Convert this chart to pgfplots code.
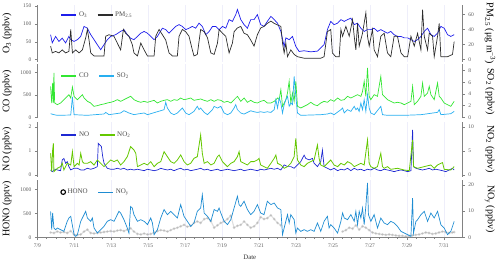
\documentclass[border=0pt]{standalone}
\usepackage{fontspec}
\setmainfont{Liberation Serif}
\usepackage{pgfplots}
\pgfplotsset{compat=1.18}
\definecolor{o3col}{RGB}{30,30,235}
\definecolor{pmcol}{RGB}{45,45,45}
\definecolor{cocol}{RGB}{50,230,50}
\definecolor{so2col}{RGB}{40,175,240}
\definecolor{nocol}{RGB}{30,40,210}
\definecolor{no2col}{RGB}{100,200,0}
\definecolor{noycol}{RGB}{30,140,210}
\definecolor{honocol}{RGB}{160,160,160}
\definecolor{gridcol}{RGB}{238,238,250}
\definecolor{axcol}{RGB}{130,130,130}
\definecolor{tickcol}{RGB}{90,90,90}
\pgfplotsset{
  base/.style={
    scale only axis, width=425pt, xmin=0, xmax=23,
    axis line style={axcol, line width=0.5pt},
    tick style={axcol, line width=0.5pt},
    tick align=outside,
    major tick length=2.5pt,
    minor tick length=1.5pt,
    ticklabel style={font=\fontsize{5.5}{6}\selectfont, text=tickcol},
    /pgf/number format/assume math mode=true,
    /pgf/number format/set thousands separator={},
    label style={font=\fontsize{6.8}{8}\selectfont, text=black!80},
    legend columns=2,
    legend style={draw=none, fill=none, font=\fontsize{7}{8}\selectfont, text=black!70,
      /tikz/every even column/.append style={column sep=8pt}},
    legend image code/.code={\draw[mark repeat=2, mark phase=2, ##1] plot coordinates {(0pt,0pt) (7.5pt,0pt) (15pt,0pt)};},
    legend image post style={line width=1.1pt},
    legend cell align=left,
    every axis plot/.append style={line width=0.7pt},
  },
  leftax/.style={base, axis y line*=left, axis x line*=bottom,
    x axis line style={draw=none}, xtick={2,4,...,22}, xticklabels={}, xtick style={draw=none},
    xmajorgrids, major grid style={gridcol, line width=0.3pt},
    every axis y label/.style={at={(axis description cs:-0.0713,0.5)}, rotate=90, anchor=center}},
  rightax/.style={base, axis y line*=right, axis x line=none,
    every axis y label/.style={at={(axis description cs:1.065,0.5)}, rotate=-90, anchor=center}},
}
\begin{document}
\begin{tikzpicture}
\useasboundingbox (0,0) rectangle (500pt,265pt);
% ---------------- Panel 1 ----------------
\begin{axis}[leftax, at={(37.3pt,203pt)}, anchor=south west, height=57pt,
  ymin=-6.4, ymax=152.8, ytick={0,50,100,150}, ylabel={O\textsubscript{3} (ppbv)}]
\addplot[o3col] coordinates {
(0.72,70)(0.81,47)(0.99,65)(1.17,51)(1.35,60)(1.53,47)(1.71,65)(1.81,56)(1.99,51)(2.17,56)
(2.35,65)(2.53,93)(2.71,88)(2.89,70)(3.07,56)(3.25,42)(3.43,28)(3.61,42)(3.79,56)(3.97,65)
(4.24,70)(4.51,79)(4.69,84)(4.87,70)(5.05,60)(5.23,56)(5.42,65)(5.60,74)(5.78,79)(5.96,74)
(6.14,65)(6.32,56)(6.50,65)(6.77,88)(6.95,84)(7.13,74)(7.31,84)(7.49,93)(7.67,98)(7.85,93)
(8.03,84)(8.21,88)(8.39,93)(8.57,88)(8.75,102)(8.93,93)(9.12,70)(9.30,79)(9.48,93)(9.66,93)
(9.84,84)(10.02,93)(10.20,88)(10.38,112)(10.56,107)(10.74,126)(10.83,140)(11.01,112)(11.19,98)(11.37,88)
(11.55,112)(11.73,112)(11.91,126)(12.09,98)(12.27,93)(12.45,107)(12.64,121)(12.82,112)(13.00,102)(13.18,79)
(13.36,37)(13.45,61)(13.63,56)(13.81,65)(13.99,37)(14.17,23)(14.44,25)(14.80,22)(15.16,24)(15.34,33)
(15.52,42)(15.70,84)(15.88,107)(16.06,98)(16.25,102)(16.43,112)(16.61,107)(16.79,112)(16.97,116)(17.15,98)
(17.33,102)(17.51,88)(17.69,79)(17.87,84)(18.05,84)(18.23,88)(18.41,79)(18.59,84)(18.77,79)(18.95,74)
(19.13,79)(19.31,70)(19.49,65)(19.68,65)(19.86,61)(20.04,61)(20.22,56)(20.40,51)(20.58,56)(20.76,65)
(20.94,79)(21.12,88)(21.30,70)(21.48,65)(21.66,74)(21.84,93)(22.02,88)(22.20,70)(22.38,65)(22.56,70)};
\end{axis}
\begin{axis}[rightax, at={(37.3pt,203pt)}, anchor=south west, height=57pt,
  axis x line*=top, xtick=\empty,
  ymin=-3.0, ymax=72.3, ytick={0,20,40,60}, ylabel={PM\textsubscript{2.5} (μg m\textsuperscript{−3})},
  legend style={at={(axis description cs:0.048,0.825)}, anchor=west}]
\addlegendimage{o3col}
\addlegendentry{O\textsubscript{3}}
\addplot[pmcol] coordinates {
(0.72,18)(0.81,9)(0.99,11)(1.17,9)(1.35,13)(1.53,9)(1.71,11)(1.81,40)(1.90,9)(2.08,13)
(2.26,9)(2.44,13)(2.62,29)(2.71,40)(2.80,26)(2.89,9)(3.07,5)(3.61,5)(3.70,31)(3.88,33)
(4.15,31)(4.33,22)(4.51,13)(4.66,40)(4.78,35)(4.96,31)(5.14,20)(5.23,9)(5.42,5)(5.60,22)
(5.78,13)(5.96,5)(6.32,5)(6.41,31)(6.59,40)(6.77,33)(6.95,26)(7.13,9)(7.31,5)(7.58,5)
(7.67,31)(7.85,40)(8.03,37)(8.21,31)(8.39,13)(8.48,5)(8.66,7)(8.84,40)(9.03,37)(9.21,29)
(9.39,9)(9.57,7)(9.75,22)(9.84,40)(10.02,35)(10.20,31)(10.38,9)(10.56,22)(10.65,37)(10.83,42)
(11.01,44)(11.19,35)(11.37,33)(11.55,26)(11.73,18)(11.91,33)(12.09,42)(12.27,44)(12.45,48)(12.64,51)
(12.82,48)(13.00,46)(13.18,44)(13.27,22)(13.36,9)(13.45,22)(13.54,4)(13.72,13)(13.90,7)(14.08,4)
(14.44,2)(15.34,2)(15.52,4)(15.70,37)(15.88,40)(15.97,9)(16.15,4)(16.34,4)(16.43,40)(16.52,31)
(16.70,44)(16.88,31)(17.06,53)(17.15,31)(17.24,13)(17.33,48)(17.42,18)(17.60,35)(17.78,62)(17.87,31)
(17.96,18)(18.14,40)(18.23,13)(18.41,4)(18.59,31)(18.77,35)(18.95,9)(19.13,4)(19.31,31)(19.49,31)
(19.68,9)(19.86,4)(20.04,4)(20.22,31)(20.40,18)(20.58,35)(20.76,13)(20.85,66)(20.94,31)(21.12,13)
(21.21,35)(21.39,31)(21.48,4)(21.66,31)(21.75,48)(21.84,4)(22.20,4)(22.47,7)(22.56,24)};
\addlegendentry{PM\textsubscript{2.5}}
\end{axis}
% ---------------- Panel 2 ----------------
\begin{axis}[leftax, at={(37.3pt,146.7pt)}, anchor=south west, height=53.8pt,
  ymin=-22, ymax=1173, ytick={0,500,1000}, ylabel={CO (ppbv)}]
\addplot[cocol] coordinates {
(0.72,688)(0.78,318)(0.83,762)(0.87,318)(0.90,984)(0.94,318)(1.08,281)(1.26,318)(1.44,392)(1.62,466)
(1.71,503)(1.81,429)(1.90,673)(1.99,466)(2.17,392)(2.35,466)(2.44,503)(2.53,429)(2.71,355)(2.89,318)
(3.07,244)(3.25,259)(3.43,281)(3.61,296)(3.79,318)(3.97,333)(4.15,355)(4.33,392)(4.51,355)(4.69,392)
(4.87,429)(5.05,466)(5.23,392)(5.42,355)(5.60,333)(5.78,355)(5.96,333)(6.14,355)(6.32,377)(6.50,318)
(6.68,355)(6.86,377)(7.04,392)(7.22,355)(7.40,392)(7.58,377)(7.76,429)(7.94,392)(8.12,407)(8.30,429)
(8.48,377)(8.66,392)(8.84,407)(9.03,377)(9.21,355)(9.39,392)(9.57,355)(9.75,392)(9.93,377)(10.11,333)
(10.29,355)(10.47,318)(10.65,392)(10.83,466)(11.01,355)(11.19,429)(11.37,333)(11.55,377)(11.73,333)(11.91,318)
(12.09,355)(12.27,377)(12.45,318)(12.64,318)(12.82,355)(13.00,429)(13.09,392)(13.18,614)(13.27,244)(13.45,392)
(13.54,540)(13.63,800)(13.72,318)(13.81,540)(13.90,355)(13.99,800)(14.08,244)(14.26,207)(14.44,244)(14.62,281)
(14.80,333)(14.98,281)(15.16,259)(15.34,318)(15.52,355)(15.70,333)(15.88,392)(16.06,355)(16.25,429)(16.43,377)
(16.61,392)(16.79,466)(16.97,429)(17.15,466)(17.33,503)(17.51,466)(17.60,577)(17.69,800)(17.78,466)(17.87,1096)
(17.96,466)(18.05,392)(18.23,503)(18.41,466)(18.59,910)(18.68,503)(18.77,466)(18.95,392)(19.13,355)(19.31,318)
(19.49,333)(19.68,318)(19.86,281)(20.04,318)(20.22,355)(20.31,688)(20.40,281)(20.58,355)(20.76,466)(20.85,762)
(20.94,466)(21.12,540)(21.21,688)(21.30,503)(21.48,392)(21.66,762)(21.75,466)(21.84,429)(22.02,318)(22.20,281)
(22.38,244)(22.56,355)};
\end{axis}
\begin{axis}[rightax, at={(37.3pt,146.7pt)}, anchor=south west, height=53.8pt,
  ymin=-0.17, ymax=9.06, ytick={0,2,4,6,8}, ylabel={SO\textsubscript{2} (ppbv)},
  legend style={at={(axis description cs:0.048,0.786)}, anchor=west}]
\addlegendimage{cocol}
\addlegendentry{CO}
\addplot[so2col] coordinates {
(0.72,0.62)(0.90,0.45)(1.08,0.34)(1.81,0.39)(1.90,3.5)(1.99,0.45)(2.71,0.34)(2.89,0.39)(3.61,0.57)(3.70,0.85)
(3.88,0.45)(4.51,0.74)(4.69,1.14)(4.96,0.74)(5.23,0.45)(5.42,0.57)(5.78,0.74)(5.96,0.45)(6.86,1.31)(6.95,2.57)
(7.04,1.59)(7.22,0.74)(7.40,0.45)(7.58,0.74)(7.76,1.31)(7.85,1.59)(8.03,0.74)(8.21,0.45)(8.48,1.02)(8.66,1.88)
(8.75,1.31)(8.84,1.59)(9.03,0.85)(9.21,0.45)(9.48,1.31)(9.57,1.88)(9.75,1.59)(9.93,1.88)(10.11,0.74)(10.29,0.45)
(10.47,0.74)(10.65,1.59)(10.74,2.17)(10.83,1.31)(11.01,0.74)(11.19,0.55)(11.37,0.84)(11.55,1.12)(11.73,0.95)(11.91,0.84)
(12.09,0.95)(12.27,0.84)(12.45,0.95)(12.64,0.84)(12.82,1.31)(12.91,3.02)(13.00,1.59)(13.09,3.31)(13.18,2.45)(13.27,0.74)
(13.36,2.17)(13.45,3.02)(13.54,3.6)(13.63,1.88)(13.72,2.45)(13.81,2.17)(13.90,7.0)(13.99,3.6)(14.08,0.74)(14.26,0.34)
(15.34,0.45)(15.70,0.57)(15.88,0.74)(16.06,0.45)(16.43,1.31)(16.52,1.59)(16.61,0.74)(16.79,1.31)(16.97,1.02)(17.15,1.88)
(17.24,1.31)(17.33,1.59)(17.42,1.02)(17.51,2.45)(17.60,1.31)(17.69,3.02)(17.78,1.02)(17.87,3.9)(17.96,1.59)(18.05,0.74)
(18.23,0.45)(18.59,1.88)(18.68,0.45)(18.95,0.34)(19.86,0.34)(20.76,0.45)(21.66,0.85)(21.75,1.31)(21.84,0.45)(22.38,0.62)
(22.56,1.02)};
\addlegendentry{SO\textsubscript{2}}
\end{axis}
% ---------------- Panel 3 ----------------
\begin{axis}[leftax, at={(37.3pt,88pt)}, anchor=south west, height=55.3pt,
  ymin=-0.083, ymax=2.22, ytick={0,1,2}, ylabel={NO (ppbv)}]
\addplot[nocol] coordinates {
(0.72,0.21)(0.81,0.14)(0.99,0.24)(1.08,0.21)(1.26,0.18)(1.35,0.63)(1.44,0.69)(1.53,0.49)(1.62,0.56)(1.71,0.35)
(1.81,0.21)(1.99,0.28)(2.17,0.28)(2.35,0.21)(2.53,0.21)(2.71,0.28)(2.89,0.24)(3.07,0.28)(3.25,0.35)(3.30,1.32)
(3.39,1.25)(3.47,1.18)(3.54,0.76)(3.61,0.49)(3.79,0.28)(3.97,0.24)(4.15,0.24)(4.33,0.28)(4.51,0.24)(4.69,0.28)
(4.87,0.21)(5.05,0.24)(5.23,0.21)(5.42,0.24)(5.60,0.21)(5.78,0.18)(5.96,0.24)(6.14,0.21)(6.32,0.18)(6.50,0.21)
(6.68,0.28)(6.86,0.24)(7.04,0.21)(7.22,0.24)(7.40,0.18)(7.58,0.24)(7.76,0.28)(7.94,0.21)(8.12,0.24)(8.30,0.18)
(8.48,0.21)(8.66,0.24)(8.84,0.28)(9.03,0.21)(9.21,0.24)(9.39,0.18)(9.57,0.21)(9.75,0.24)(9.93,0.18)(10.11,0.21)
(10.29,0.24)(10.47,0.21)(10.65,0.18)(10.83,0.21)(11.01,0.24)(11.19,0.18)(11.37,0.21)(11.55,0.24)(11.73,0.21)(11.91,0.18)
(12.09,0.24)(12.27,0.21)(12.45,0.24)(12.64,0.28)(12.82,0.24)(13.00,0.28)(13.18,0.21)(13.36,0.42)(13.54,0.35)(13.72,0.35)
(13.90,0.28)(14.08,0.42)(14.26,0.56)(14.44,0.83)(14.53,0.69)(14.71,0.63)(14.89,0.69)(14.98,0.49)(15.16,0.35)(15.34,0.56)
(15.43,1.04)(15.52,0.35)(15.70,0.28)(15.88,0.21)(16.06,0.28)(16.25,0.18)(16.43,0.24)(16.61,0.21)(16.79,0.28)(16.97,0.18)
(17.15,0.28)(17.33,0.21)(17.51,0.24)(17.69,0.18)(17.87,0.24)(18.05,0.21)(18.23,0.28)(18.41,0.21)(18.59,0.18)(18.77,0.24)
(18.95,0.21)(19.13,0.18)(19.31,0.14)(19.49,0.18)(19.68,0.21)(19.86,0.18)(20.04,0.14)(20.22,0.18)(20.31,1.88)(20.36,0.35)
(20.49,0.28)(20.67,0.24)(20.85,0.21)(21.03,0.24)(21.21,0.28)(21.39,0.21)(21.57,0.24)(21.75,0.21)(21.93,0.18)(22.11,0.14)
(22.29,0.21)(22.47,0.28)(22.56,0.21)};
\end{axis}
\begin{axis}[rightax, at={(37.3pt,88pt)}, anchor=south west, height=55.3pt,
  ymin=-0.42, ymax=11.1, ytick={0,5,10}, ylabel={NO\textsubscript{2} (ppbv)},
  legend style={at={(axis description cs:0.048,0.76)}, anchor=west}]
\addlegendimage{nocol}
\addlegendentry{NO}
\addplot[no2col, line width=0.8pt] coordinates {
(0.72,4.51)(0.78,0.69)(0.83,5.21)(0.87,6.6)(0.90,0.69)(0.99,1.04)(1.08,1.39)(1.26,1.74)(1.35,2.43)(1.44,1.04)
(1.62,2.43)(1.81,2.08)(1.90,4.86)(1.99,1.74)(2.17,2.43)(2.26,2.08)(2.35,4.51)(2.44,2.78)(2.53,2.43)(2.71,2.43)
(2.89,2.78)(3.07,2.08)(3.25,3.13)(3.43,2.43)(3.61,1.74)(3.79,2.43)(3.97,3.13)(4.15,2.78)(4.33,3.13)(4.51,2.08)
(4.69,2.78)(4.87,3.82)(5.05,5.9)(5.23,5.21)(5.33,4.51)(5.42,1.74)(5.60,2.08)(5.78,2.43)(5.96,2.08)(6.14,2.78)
(6.32,1.74)(6.50,2.43)(6.68,2.78)(6.86,4.86)(7.04,3.82)(7.22,2.78)(7.40,2.43)(7.58,3.13)(7.76,4.17)(7.94,2.78)
(8.12,2.08)(8.30,2.43)(8.48,3.47)(8.66,3.82)(8.84,8.33)(8.93,4.51)(9.03,2.43)(9.21,2.78)(9.39,2.08)(9.57,2.43)
(9.75,3.82)(9.84,4.17)(10.02,2.78)(10.11,2.43)(10.29,1.74)(10.47,2.43)(10.65,2.78)(10.83,3.82)(10.92,4.86)(11.01,2.78)
(11.19,2.43)(11.37,2.08)(11.55,2.78)(11.73,2.78)(11.91,3.13)(12.00,3.47)(12.09,2.08)(12.27,1.74)(12.45,1.39)(12.64,2.43)
(12.82,3.47)(12.91,4.17)(13.00,2.43)(13.18,2.08)(13.36,1.39)(13.54,1.74)(13.72,2.43)(13.90,3.82)(13.99,7.64)(14.08,3.13)
(14.26,2.08)(14.44,1.74)(14.62,2.43)(14.80,2.78)(14.98,3.13)(15.16,6.25)(15.25,3.47)(15.34,2.08)(15.52,1.74)(15.70,2.43)
(15.88,3.13)(16.06,2.08)(16.25,1.74)(16.43,2.43)(16.61,2.08)(16.79,2.78)(16.97,2.43)(17.15,1.74)(17.33,2.08)(17.51,2.43)
(17.69,2.08)(17.87,7.29)(17.96,2.43)(18.05,1.74)(18.23,1.39)(18.41,1.74)(18.59,4.51)(18.68,1.74)(18.77,1.39)(18.95,1.74)
(19.13,1.18)(19.49,1.39)(19.86,1.04)(20.13,0.9)(20.31,7.29)(20.36,1.74)(20.58,1.39)(20.94,1.74)(21.30,2.08)(21.48,1.39)
(21.66,2.08)(21.84,2.43)(21.93,2.57)(22.02,1.18)(22.38,1.04)(22.56,1.74)};
\addlegendentry{NO\textsubscript{2}}
\end{axis}
% ---------------- Panel 4 ----------------
\begin{axis}[leftax, at={(37.3pt,27.3pt)}, anchor=south west, height=57.7pt,
  x axis line style={draw=axcol}, xtick style={draw=axcol},
  xtick={0,2,...,22}, xticklabels={7/9,7/11,7/13,7/15,7/17,7/19,7/21,7/23,7/25,7/27,7/29,7/31},
  minor x tick num=3,
  xlabel={Date}, xlabel style={at={(axis description cs:0.5,-0.334)}, anchor=center},
  ymin=-8, ymax=1194, ytick={0,500,1000}, ylabel={HONO (pptv)},
  unbounded coords=jump]
\addplot[honocol, opacity=0.35, line width=1.1pt, mark=*, mark size=0.8pt] coordinates {
(0.72,100)(0.90,90)(1.08,120)(1.26,100)(1.44,110)(1.62,90)(1.81,130)(1.99,55)(2.17,50)(2.35,60)
(2.53,120)(2.71,160)(2.89,90)(3.07,80)(3.25,90)(3.43,100)(3.61,110)(3.79,120)(3.97,130)(4.15,120)
(4.33,140)(4.51,150)(4.69,130)(4.87,160)(5.05,190)(5.23,120)(5.42,70)(5.60,60)(5.78,80)(5.96,60)
(6.14,70)(6.32,100)(6.50,130)(6.68,150)(6.86,140)(7.04,120)(7.22,150)(7.40,180)(7.58,200)(7.76,230)
(7.94,260)(8.12,220)(8.30,240)(8.48,300)(8.66,330)(8.84,300)(9.03,380)(9.21,400)(9.39,340)(9.57,200)
(9.75,250)(9.93,300)(10.11,330)(10.29,380)(10.47,450)(10.65,200)(10.83,240)(11.01,260)(11.19,330)(11.37,260)
(11.55,200)(11.73,230)(11.91,300)(12.09,420)(12.27,380)(12.45,400)(12.64,460)(12.82,380)(13.00,300)(13.18,250)
(14.00,nan)
(16.52,120)(16.70,150)(16.88,200)(17.06,180)(17.24,250)(17.42,160)(17.60,230)(17.78,200)(17.96,150)(18.14,100)
(18.32,80)(18.50,70)(18.68,60)(18.86,50)(19.04,60)(19.22,50)(19.40,40)(19.58,30)(19.76,30)(19.94,20)
(20.12,30)(20.30,40)(20.48,50)(20.66,60)(20.84,80)(21.02,100)(21.20,90)(21.38,70)(21.56,80)(21.74,100)
(21.92,120)(22.10,110)(22.28,90)(22.46,100)(22.56,110)};
\end{axis}
\begin{axis}[rightax, at={(37.3pt,27.3pt)}, anchor=south west, height=57.7pt,
  ymin=-0.15, ymax=21.9, ytick={0,10,20}, ylabel={NO\textsubscript{y} (ppbv)},
  legend style={at={(axis description cs:0.048,0.79)}, anchor=west}]
\addlegendimage{only marks, mark=o, mark size=2.3pt, black}
\addlegendentry{HONO}
\addplot[noycol] coordinates {
(0.72,9.93)(0.78,2.92)(0.83,9.29)(0.90,3.56)(0.99,2.92)(1.08,3.56)(1.26,2.92)(1.44,2.28)(1.62,6.1)(1.71,7.38)
(1.81,8.02)(1.99,1.0)(2.08,0.37)(2.17,1.0)(2.35,6.1)(2.53,8.66)(2.62,9.93)(2.71,7.38)(2.89,6.1)(2.98,7.38)
(3.07,3.56)(3.25,1.64)(3.43,2.92)(3.61,4.19)(3.79,6.1)(3.97,6.74)(4.15,6.1)(4.33,8.66)(4.42,9.93)(4.51,9.29)
(4.69,6.74)(4.87,3.56)(4.96,1.64)(5.05,11.8)(5.14,11.2)(5.23,8.66)(5.42,6.1)(5.60,6.74)(5.78,6.1)(5.96,4.83)
(6.14,7.38)(6.23,5.47)(6.32,1.0)(6.50,2.92)(6.68,7.38)(6.86,10.6)(7.04,8.66)(7.22,9.93)(7.40,8.66)(7.58,7.38)
(7.76,12.5)(7.94,8.02)(8.12,6.1)(8.30,4.19)(8.48,5.47)(8.66,9.93)(8.84,11.2)(8.93,16.3)(9.03,9.29)(9.21,8.02)
(9.39,6.1)(9.57,10.6)(9.75,9.93)(9.84,11.2)(9.93,9.29)(10.11,6.1)(10.29,4.83)(10.47,6.74)(10.65,11.2)(10.83,15.7)
(10.92,12.5)(11.01,11.8)(11.19,13.8)(11.37,10.6)(11.55,8.66)(11.73,9.93)(11.91,12.5)(12.09,9.29)(12.27,8.66)(12.45,13.8)
(12.64,12.5)(12.82,13.1)(13.00,11.2)(13.18,10.6)(13.27,1.0)(13.36,3.56)(13.54,8.66)(13.63,5.47)(13.72,8.66)(13.90,6.74)
(13.99,1.64)(14.08,3.56)(14.26,2.28)(14.44,2.92)(14.62,2.28)(14.80,2.92)(14.98,2.28)(15.16,5.47)(15.34,2.28)(15.52,6.1)
(15.70,8.02)(15.79,3.56)(15.88,4.83)(16.06,3.56)(16.25,1.64)(16.43,6.1)(16.52,9.29)(16.61,7.38)(16.79,6.74)(16.97,8.66)
(17.15,6.1)(17.24,9.93)(17.33,4.83)(17.42,9.93)(17.51,7.38)(17.60,11.2)(17.69,4.83)(17.78,11.8)(17.87,20.8)(17.92,8.66)
(18.05,6.1)(18.23,8.66)(18.41,3.56)(18.59,7.38)(18.77,5.47)(18.95,4.83)(19.13,6.1)(19.31,5.47)(19.49,4.19)(19.68,2.28)
(19.86,1.64)(20.04,1.0)(20.22,0.37)(20.31,15.0)(20.36,1.64)(20.49,6.1)(20.58,6.74)(20.76,8.66)(20.94,9.93)(21.12,6.1)
(21.30,9.29)(21.48,7.38)(21.66,9.93)(21.84,4.83)(22.02,3.56)(22.20,1.0)(22.38,2.28)(22.56,6.1)};
\addlegendentry{NO\textsubscript{y}}
\end{axis}
\end{tikzpicture}
\end{document}
